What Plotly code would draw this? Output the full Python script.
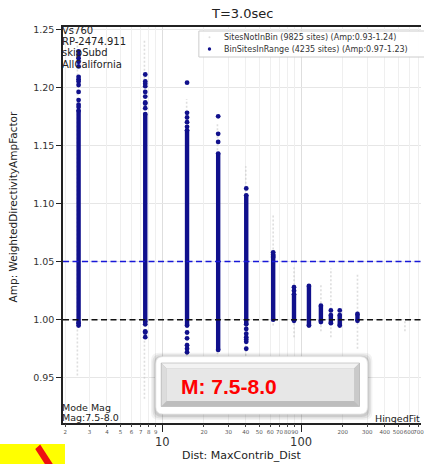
import math
import plotly.graph_objects as go

# ---------------- data ----------------
# BinSitesInRange: distance columns, dense ranges and isolated points
bin_dist = [2.5, 7.55, 15.1, 25.3, 40.3, 63, 89, 114, 139, 164, 190, 255]
bin_dense_hi = [1.180, 1.177, 1.163, 1.143, 1.107, 1.056, 1.022, 1.029, 1.012, 1.004, 1.004, 1.005]
bin_dense_lo = [0.997, 0.998, 0.995, 0.974, 0.996, 1.000, 0.999, 0.995, 0.999, 0.997, 0.995, 0.999]
bin_sparse = [
    [1.231, 1.228, 1.225, 1.222, 1.218, 1.209, 1.207, 1.205, 1.202, 1.196, 1.189, 1.185, 1.183, 0.995],
    [1.211, 1.205, 1.203, 1.201, 1.196, 1.192, 1.187, 1.186, 1.182, 0.996, 0.990, 0.989, 0.985],
    [1.204, 1.178, 1.174, 1.170, 1.166, 0.989, 0.984, 0.978, 0.975, 0.972],
    [1.175, 1.160, 1.153],
    [1.113, 0.992, 0.988, 0.985, 0.983, 0.981, 0.975],
    [1.058, 1.054],
    [1.028, 1.025],
    [],
    [0.998],
    [1.008],
    [1.008],
    [],
]
# SitesNotInBin: faint columns (range per distance)
nb_dist = [2.45, 7.45, 15.0, 25.0, 40.0, 63, 89, 139, 164, 255, 560]
nb_hi = [1.240, 1.240, 1.190, 1.170, 1.132, 1.090, 1.046, 1.030, 1.044, 1.040, 1.000]
nb_lo = [0.952, 0.932, 0.962, 0.960, 0.962, 0.995, 0.985, 0.990, 0.985, 0.975, 0.990]

y_ticks = [0.95, 1.00, 1.05, 1.10, 1.15, 1.20, 1.25]
y_ticktext = ["0.95", "1.00", "1.05", "1.10", "1.15", "1.20", "1.25"]
x_major = [10, 100]
x_major_text = ["10", "100"]
x_minor = [2, 3, 4, 5, 6, 7, 8, 9, 20, 30, 40, 50, 60, 70, 80, 90, 200, 300, 400, 500, 600, 700]
x_minor_text = [str(v) for v in x_minor]

ref_lines = [1.05, 1.00]
ref_colors = ["#1818d8", "#111111"]

legend_labels = ["SitesNotInBin (9825 sites) (Amp:0.93-1.24)",
                 "BinSitesInRange (4235 sites) (Amp:0.97-1.23)"]
info_lines = ["Vs760", "RP-2474.911", "skipSubd", "AllCalifornia"]
mode_lines = ["Mode Mag", "Mag:7.5-8.0"]

# ---------------- layout geometry ----------------
W, H = 424, 464
L, R, T, B = 63, 424, 27, 423
NAVY = "#10108c"
GRAYPT = "rgba(190,190,190,0.5)"
FONT = "DejaVu Sans"


def xp(px):
    return (px - L) / (R - L)


def yp(py):
    return (B - py) / (B - T)


xrange_log = [math.log10(1.93), 2.864]
yrange = [0.9111, 1.2519]

fig = go.Figure()

# faint not-in-bin columns
for d, lo, hi in zip(nb_dist, nb_lo, nb_hi):
    fig.add_trace(go.Scatter(x=[d, d], y=[lo, hi], mode="lines",
                             line=dict(color=GRAYPT, width=1.6, dash="2px,2px"),
                             showlegend=False, hoverinfo="skip"))

# dense in-bin columns
for d, lo, hi in zip(bin_dist, bin_dense_lo, bin_dense_hi):
    fig.add_trace(go.Scatter(x=[d, d], y=[lo, hi], mode="lines",
                             line=dict(color=NAVY, width=4.4),
                             showlegend=False, hoverinfo="skip"))

# isolated in-bin points (plus dense end caps)
xs, ys = [], []
for d, lo, hi, vals in zip(bin_dist, bin_dense_lo, bin_dense_hi, bin_sparse):
    for v in vals + [lo, hi]:
        xs.append(d)
        ys.append(v)
fig.add_trace(go.Scatter(x=xs, y=ys, mode="markers",
                         marker=dict(size=4.8, color=NAVY, line=dict(width=0)),
                         showlegend=False, hoverinfo="skip"))

# invisible trace to activate the minor-label axis
fig.add_trace(go.Scatter(x=bin_dist, y=bin_dense_lo, xaxis="x2", mode="markers",
                         marker=dict(opacity=0), showlegend=False, hoverinfo="skip"))

shapes = []
# reference dashed lines
for v, c in zip(ref_lines, ref_colors):
    shapes.append(dict(type="line", xref="paper", yref="y", x0=0, x1=1, y0=v, y1=v,
                       line=dict(color=c, width=1.5, dash="6px,3.5px"), layer="above"))

# legend box (manual)
shapes.append(dict(type="rect", xref="paper", yref="paper",
                   x0=xp(200), x1=xp(430), y0=yp(57), y1=yp(31),
                   fillcolor="rgba(255,255,255,0.9)", line=dict(color="#cccccc", width=1)))
shapes.append(dict(type="circle", xref="paper", yref="paper",
                   x0=xp(209.7), x1=xp(211.7), y0=yp(38.3), y1=yp(36.3),
                   fillcolor="#dddddd", line=dict(width=0)))
shapes.append(dict(type="circle", xref="paper", yref="paper",
                   x0=xp(209), x1=xp(212.4), y0=yp(50.7), y1=yp(47.3),
                   fillcolor=NAVY, line=dict(width=0)))


def rrect(x0, y0, x1, y1, r):
    X0, X1 = xp(x0), xp(x1)
    Y0, Y1 = yp(y0), yp(y1)  # Y0 top, Y1 bottom in paper
    rx = r / (R - L)
    ry = r / (B - T)
    return (f"M {X0+rx},{Y0} L {X1-rx},{Y0} Q {X1},{Y0} {X1},{Y0-ry} "
            f"L {X1},{Y1+ry} Q {X1},{Y1} {X1-rx},{Y1} L {X0+rx},{Y1} "
            f"Q {X0},{Y1} {X0},{Y1+ry} L {X0},{Y0-ry} Q {X0},{Y0} {X0+rx},{Y0} Z")


def poly(pts):
    s = "M " + " L ".join(f"{xp(a)},{yp(b)}" for a, b in pts) + " Z"
    return s


# overlay label box: shadow, white frame, bevelled button
for off, a in [(5, 0.05), (3.5, 0.07), (2, 0.09)]:
    shapes.append(dict(type="path", xref="paper", yref="paper",
                       path=rrect(156.7 - off, 356.7 - off + 1, 370 + off, 414 + off + 1, 8),
                       fillcolor=f"rgba(0,0,0,{a})", line=dict(width=0)))
shapes.append(dict(type="path", xref="paper", yref="paper",
                   path=rrect(156.7, 356.7, 370, 414, 7),
                   fillcolor="white", line=dict(color="#e8e8e8", width=0.8)))
bx0, by0, bx1, by1, bv = 162, 363, 362, 406.5, 5.5
shapes.append(dict(type="rect", xref="paper", yref="paper",
                   x0=xp(bx0), x1=xp(bx1), y0=yp(by1), y1=yp(by0),
                   fillcolor="#bdbdbd", line=dict(width=0)))
shapes.append(dict(type="path", xref="paper", yref="paper",
                   path=poly([(bx0, by0), (bx1, by0), (bx1 - bv, by0 + bv), (bx0 + bv, by0 + bv)]),
                   fillcolor="#f3f3f3", line=dict(width=0)))
shapes.append(dict(type="path", xref="paper", yref="paper",
                   path=poly([(bx0, by0), (bx0 + bv, by0 + bv), (bx0 + bv, by1 - bv), (bx0, by1)]),
                   fillcolor="#dcdcdc", line=dict(width=0)))
shapes.append(dict(type="path", xref="paper", yref="paper",
                   path=poly([(bx1, by0), (bx1, by1), (bx1 - bv, by1 - bv), (bx1 - bv, by0 + bv)]),
                   fillcolor="#cacaca", line=dict(width=0)))
shapes.append(dict(type="rect", xref="paper", yref="paper",
                   x0=xp(bx0 + bv), x1=xp(bx1 - bv), y0=yp(by1 - bv), y1=yp(by0 + bv),
                   fillcolor="#e7e7e7", line=dict(width=0)))
shapes.append(dict(type="rect", xref="paper", yref="paper",
                   x0=xp(bx0), x1=xp(bx1), y0=yp(by1), y1=yp(by0),
                   fillcolor="rgba(0,0,0,0)", line=dict(color="#b0b0b0", width=0.6)))

# yellow patch with red stroke (bottom-left)
shapes.append(dict(type="rect", xref="paper", yref="paper",
                   x0=xp(-2), x1=xp(65), y0=yp(466), y1=yp(444),
                   fillcolor="#ffff00", line=dict(width=0)))
shapes.append(dict(type="path", xref="paper", yref="paper",
                   path=poly([(35, 449), (40, 444.5), (54, 466), (46, 466)]),
                   fillcolor="#ee1111", line=dict(width=0)))

annotations = []
# title
annotations.append(dict(text="T=3.0sec", xref="paper", yref="paper", x=xp(243), y=yp(13),
                        xanchor="center", yanchor="middle", showarrow=False,
                        font=dict(size=13, color="#222")))
# axis titles
annotations.append(dict(text="Dist: MaxContrib_Dist", xref="paper", yref="paper",
                        x=xp(244), y=yp(455), xanchor="center", yanchor="middle",
                        showarrow=False, font=dict(size=11, color="#222")))
annotations.append(dict(text="Amp: WeightedDirectivityAmpFactor", xref="paper", yref="paper",
                        x=xp(13), y=yp(207), xanchor="center", yanchor="middle",
                        textangle=-90, showarrow=False, font=dict(size=10.5, color="#222")))
# info text
for i, t in enumerate(info_lines):
    annotations.append(dict(text=t, xref="paper", yref="paper", x=xp(62), y=yp(31 + 11 * i),
                            xanchor="left", yanchor="middle", showarrow=False,
                            font=dict(size=10, color="#222"), xshift=-2))
for i, t in enumerate(mode_lines):
    annotations.append(dict(text=t, xref="paper", yref="paper", x=xp(62), y=yp(407.5 + 10.2 * i),
                            xanchor="left", yanchor="middle", showarrow=False,
                            font=dict(size=9.5, color="#222"), xshift=-2))
annotations.append(dict(text="HingedFit", xref="paper", yref="paper", x=xp(378), y=yp(418.5),
                        xanchor="left", yanchor="middle", showarrow=False,
                        font=dict(size=9.5, color="#222"), xshift=-2))
# legend text
for i, t in enumerate(legend_labels):
    annotations.append(dict(text=t, xref="paper", yref="paper", x=xp(225), y=yp(37.3 + 11.7 * i),
                            xanchor="left", yanchor="middle", showarrow=False,
                            font=dict(size=8, color="#333"), xshift=-2))
# overlay label
annotations.append(dict(text="<b>M: 7.5-8.0</b>", xref="paper", yref="paper",
                        x=xp(230), y=yp(386), xanchor="center", yanchor="middle",
                        showarrow=False,
                        font=dict(size=21, color="#ff0000", family="Liberation Sans")))

fig.update_layout(
    width=W, height=H,
    margin=dict(l=L, r=W - R, t=T, b=H - B, pad=0),
    paper_bgcolor="white", plot_bgcolor="white",
    font=dict(family=FONT, color="#222"),
    showlegend=False,
    xaxis=dict(type="log", range=xrange_log, tickmode="array", tickvals=x_major,
               ticktext=x_major_text, ticks="outside", ticklen=7, tickwidth=1.2,
               tickcolor="#222", tickfont=dict(size=11.5, color="#333"), tickangle=0,
               showline=True, linecolor="#222", linewidth=1.5, mirror=True,
               showgrid=True, gridcolor="#dedede", gridwidth=1, zeroline=False),
    xaxis2=dict(type="log", range=xrange_log, overlaying="x", anchor="y", side="bottom",
                tickmode="array", tickvals=x_minor, ticktext=x_minor_text, tickangle=0,
                ticklabeloverflow="allow",
                ticks="outside", ticklen=3, tickwidth=0.8, tickcolor="#444",
                tickfont=dict(size=5.5, color="#555"), showline=False,
                showgrid=True, gridcolor="#efefef", gridwidth=1, zeroline=False),
    yaxis=dict(range=yrange, tickmode="array", tickvals=y_ticks, ticktext=y_ticktext,
               ticks="outside", ticklen=5, tickwidth=1.2, tickcolor="#222",
               tickfont=dict(size=9.5, color="#333"), showline=True, linecolor="#222",
               linewidth=1.5, mirror=False, showgrid=True, gridcolor="#e6e6e6",
               zeroline=False),
    shapes=shapes,
    annotations=annotations,
)

fig.write_html("out.html")
